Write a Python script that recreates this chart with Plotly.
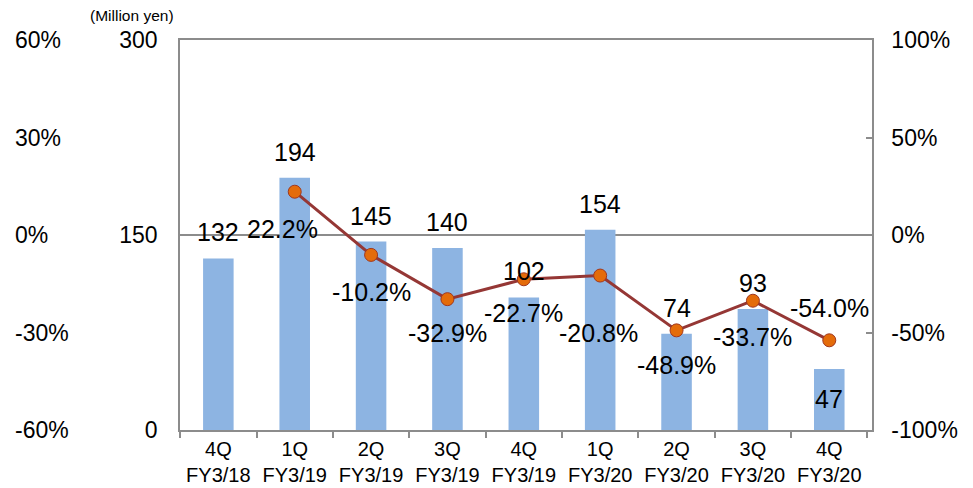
import plotly.graph_objects as go

categories = ["4Q<br>FY3/18", "1Q<br>FY3/19", "2Q<br>FY3/19", "3Q<br>FY3/19", "4Q<br>FY3/19",
              "1Q<br>FY3/20", "2Q<br>FY3/20", "3Q<br>FY3/20", "4Q<br>FY3/20"]
sales = [132, 194, 145, 140, 102, 154, 74, 93, 47]
yoy_categories = categories[1:]
yoy = [0.222, -0.102, -0.329, -0.227, -0.208, -0.489, -0.337, -0.540]
right_ticks = [-1.0, -0.5, 0.0, 0.5, 1.0]
right_labels = ["-100%", "-50%", "0%", "50%", "100%"]
far_left_ticks = [-0.6, -0.3, 0.0, 0.3, 0.6]
far_left_labels = ["-60%", "-30%", "0%", "30%", "60%"]

FONT = "Liberation Sans, Arial, sans-serif"
GRAY = "#8c8c8c"

fig = go.Figure()
fig.add_trace(go.Bar(x=categories, y=sales, marker=dict(color="#8db4e2", line=dict(width=0)),
                     yaxis="y", showlegend=False, hoverinfo="skip"))
fig.add_trace(go.Scatter(x=yoy_categories, y=yoy, mode="lines+markers", yaxis="y2",
                         line=dict(color="#953735", width=3),
                         marker=dict(size=13, color="#e46c0a", line=dict(color="#a0371f", width=1)),
                         showlegend=False, hoverinfo="skip"))
# invisible trace to carry the far-left percentage axis
fig.add_trace(go.Scatter(x=[categories[0]], y=[0], yaxis="y3", mode="markers",
                         marker=dict(opacity=0), showlegend=False, hoverinfo="skip"))

annotations = []
bar_shift = [26, 26, 26, 26, 26, 26, 26, 26, -30]
for c, v, s in zip(categories, sales, bar_shift):
    annotations.append(dict(x=c, y=v, xref="x", yref="y", text=str(v), showarrow=False,
                            yshift=s, yanchor="middle", font=dict(size=25, color="#000", family=FONT)))
line_shift = [(-12, -37), (0, -37), (0, -34), (0, -34), (-2, -57), (0, -35), (0, -36), (0, 32)]
for c, v, (xs, ys) in zip(yoy_categories, yoy, line_shift):
    annotations.append(dict(x=c, y=v, xref="x", yref="y2", text=f"{v*100:.1f}%", showarrow=False,
                            xshift=xs, yshift=ys, yanchor="middle",
                            font=dict(size=25, color="#000", family=FONT)))
annotations.append(dict(x=124 / 864, y=1.0, xref="paper", yref="paper", text="(Million yen)",
                        showarrow=False, xanchor="center", yanchor="middle", yshift=25,
                        font=dict(size=15.5, color="#000", family=FONT)))

fig.update_layout(
    width=965, height=480,
    margin=dict(l=0, r=101, t=32, b=58, autoexpand=False),
    paper_bgcolor="white", plot_bgcolor="white",
    font=dict(family=FONT, color="#000"),
    bargap=0.6,
    xaxis=dict(domain=[172 / 864, 1], type="category", showline=True, linecolor=GRAY, linewidth=1.5,
               mirror=True, ticks="outside", tickson="boundaries", ticklen=6, tickcolor=GRAY,
               tickwidth=1.5, tickfont=dict(size=20), showgrid=False, automargin=False),
    yaxis=dict(range=[0, 300], dtick=150, showline=True, linecolor=GRAY, linewidth=1.5,
               showgrid=True, gridcolor=GRAY, gridwidth=1.5, zeroline=False, automargin=False,
               tickfont=dict(size=23), ticks="", ticklabelstandoff=16),
    yaxis2=dict(range=[-1, 1], tickvals=right_ticks, ticktext=right_labels, overlaying="y", side="right",
                showline=True, linecolor=GRAY, linewidth=1.5, showgrid=False, zeroline=False,
                ticks="inside", ticklen=6, tickcolor=GRAY, tickwidth=1.5, automargin=False,
                tickfont=dict(size=23), ticklabelstandoff=13),
    yaxis3=dict(range=[-0.6, 0.6], tickvals=far_left_ticks, ticktext=far_left_labels,
                overlaying="y", side="right", anchor="free", position=0, automargin=False,
                showline=False, showgrid=False, zeroline=False,
                ticks="", tickfont=dict(size=23), ticklabelstandoff=6),
    annotations=annotations,
)
fig.write_html("out.html")
